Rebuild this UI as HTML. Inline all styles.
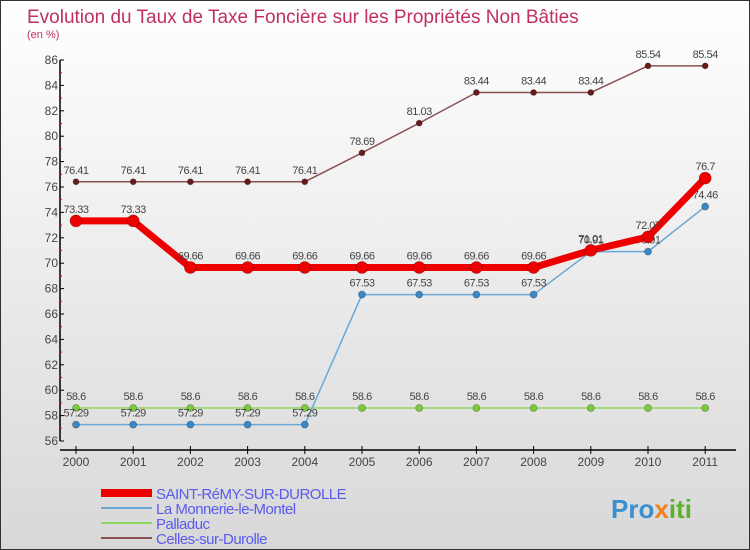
<!DOCTYPE html>
<html><head><meta charset="utf-8"><style>
body{margin:0}
#c{width:748px;height:548px;border:1px solid #333;background:linear-gradient(#fff,#d8d8d8);position:relative;overflow:hidden;font-family:"Liberation Sans",sans-serif}
</style></head><body>
<div id="c">
<svg id="s" width="748" height="548" xmlns="http://www.w3.org/2000/svg">
<text x="26" y="22" font-size="19" fill="#c0305e">Evolution du Taux de Taxe Foncière sur les Propriétés Non Bâties</text>
<text x="26" y="37" font-size="11" fill="#c0305e">(en %)</text>
<text x="610" y="517" font-size="26" font-weight="bold" fill="#3a8fd0">Pro<tspan fill="#f08020">x</tspan><tspan fill="#60b030">iti</tspan></text>
</svg>
</div>
<script>
const years=[2000,2001,2002,2003,2004,2005,2006,2007,2008,2009,2010,2011];
const saint=[73.33,73.33,69.66,69.66,69.66,69.66,69.66,69.66,69.66,71.01,72.07,76.7];
const monnerie=[57.29,57.29,57.29,57.29,57.29,67.53,67.53,67.53,67.53,70.91,70.91,74.46];
const palladuc=[58.6,58.6,58.6,58.6,58.6,58.6,58.6,58.6,58.6,58.6,58.6,58.6];
const celles=[76.41,76.41,76.41,76.41,76.41,78.69,81.03,83.44,83.44,83.44,85.54,85.54];
const yTicks=[56,58,60,62,64,66,68,70,72,74,76,78,80,82,84,86];
const seriesNames=["SAINT-RéMY-SUR-DUROLLE","La Monnerie-le-Montel","Palladuc","Celles-sur-Durolle"];
const NS="http://www.w3.org/2000/svg";
const s=document.getElementById('s');
const X=i=>75+i*57.2;
const Y=v=>440-(v-56)*(381/30);
function el(t,a,p){const e=document.createElementNS(NS,t);for(const k in a)e.setAttribute(k,a[k]);(p||s).appendChild(e);return e;}
let ya=el('line',{x1:59,y1:Y(86),x2:59,y2:Y(56),stroke:'#000','stroke-width':1.5});


let xa=el('line',{x1:59,y1:449,x2:735,y2:449,stroke:'#000','stroke-width':1.5});


yTicks.forEach((v,i)=>{
 el('line',{x1:59,y1:Y(v),x2:63,y2:Y(v),stroke:'#000'});
 if(i<yTicks.length-1) el('line',{x1:58,y1:Y(v+1),x2:61,y2:Y(v+1),stroke:'#e00'});
 let t=el('text',{x:57,y:Y(v)+4,'font-size':12,fill:'#444','text-anchor':'end'});t.textContent=v;
 
 
});
years.forEach((y,i)=>{
 el('line',{x1:X(i),y1:445,x2:X(i),y2:453,stroke:'#000'});
 let t=el('text',{x:X(i),y:465,'font-size':12,fill:'#444','text-anchor':'middle'});t.textContent=y;
 
 
});
function series(data,color,w,r,dot,name){
 const g=el('g',{});
 
 
 el('polyline',{points:data.map((v,i)=>X(i)+','+Y(v)).join(' '),fill:'none',stroke:color,'stroke-width':w,'stroke-linejoin':'round'},g);
 data.forEach((v,i)=>{
  let c=el('circle',{cx:X(i),cy:Y(v),r:r,fill:dot,stroke:'rgba(0,0,0,0.3)','stroke-width':0.8},g);
  
  
  let t=el('text',{x:X(i),y:Y(v)-8,'font-size':11,fill:'#444','text-anchor':'middle','letter-spacing':'-0.5'},g);t.textContent=v;
 });
}
series(palladuc,'#8fd860',1.5,3.5,'#7acc3a','palladuc-series');
series(monnerie,'#6aa8d8',1.5,3.5,'#3a88c8','monnerie-series');
series(celles,'#8a5050',1.5,3,'#6a1a1a','celles-series');
series(saint,'#ee0000',7,6,'#ee0000','saint-remy-series');
const lc=[['#ee0000',8],['#6aa8d8',2],['#8fd860',2],['#8a5050',2]];
seriesNames.forEach((n,i)=>{
 const y=492+i*15;
 const g=el('g',{});
 
 
 el('line',{x1:100,y1:y,x2:151,y2:y,stroke:lc[i][0],'stroke-width':lc[i][1]},g);
 let t=el('text',{x:155,y:y+6,'font-size':15,fill:'#5a5aee','letter-spacing':'-0.5'},g);t.textContent=n;
});
</script>
</body></html>
